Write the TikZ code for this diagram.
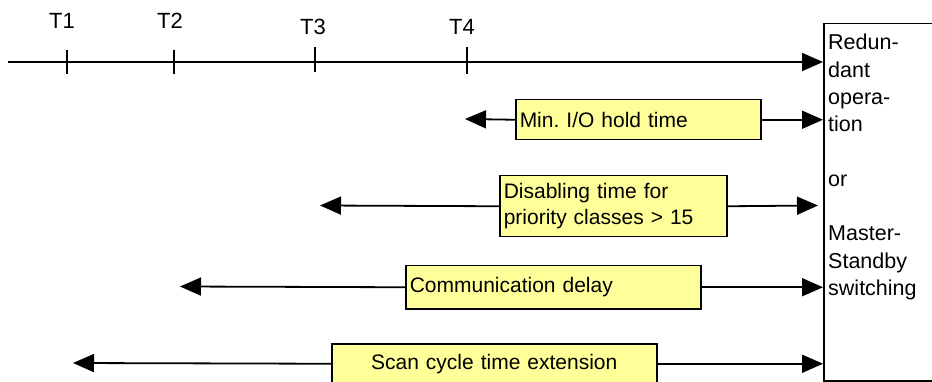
\documentclass[tikz,border=0pt]{standalone}
\usepackage{fontspec}
\setmainfont{Liberation Sans}
\usetikzlibrary{arrows.meta}
\definecolor{boxyellow}{HTML}{FFFF99}
\tikzset{
  arr/.style={-{Triangle[length=21pt,width=18pt]}, line width=1.8pt},
  ybox/.style={draw, line width=1.5pt, fill=boxyellow, font=\fontsize{21}{26}\selectfont, inner xsep=4pt, inner ysep=0pt, anchor=north west},
  tlabel/.style={font=\fontsize{22}{24}\selectfont, inner sep=0pt},
  tick/.style={line width=1.8pt}
}
\frenchspacing
\begin{document}
\begin{tikzpicture}[x=1pt,y=-1pt]
\useasboundingbox (0,0) rectangle (932,382);
% right box
\node[draw, line width=1.5pt, minimum width=130pt, minimum height=357pt, anchor=north west, inner sep=0pt] (rb) at (823,23) {};
\node[anchor=north west, inner sep=0pt, align=left, font=\fontsize{21.5}{27.3}\selectfont] (rbt) at (828,34)
  {Redun-\\dant\\opera-\\tion\\\mbox{}\\or\\\mbox{}\\Master-\\Standby\\switching};
% timeline
\coordinate (t0) at (8,62);
\coordinate (k1) at (67,62);
\coordinate (k2) at (174,62);
\coordinate (k3) at (315,62);
\coordinate (k4) at (467,62);
\draw[arr] (t0) -- (rb.west |- t0);
\draw[tick] ([yshift=-12pt]k1) -- ([yshift=12pt]k1);
\draw[tick] ([yshift=-12pt]k2) -- ([yshift=12pt]k2);
\draw[tick] ([yshift=-10pt]k3) -- ([yshift=15pt]k3);
\draw[tick] ([yshift=-12pt]k4) -- ([yshift=15pt]k4);
\node[tlabel] (l1) at (62,21) {T1};
\node[tlabel] (l2) at (170,21) {T2};
\node[tlabel] (l3) at (313,27) {T3};
\node[tlabel] (l4) at (462,27) {T4};
% row 1
\node[ybox, text width=237pt, align=left, minimum height=40pt] (m1) at (515,99) {Min. I/O hold time};
\coordinate (m1l) at (465,119);
\draw[arr] (m1.west) -- (m1l);
\draw[arr] (m1.east) -- (rb.west |- m1.east);
% row 2
\node[ybox, text width=219pt, align=left, minimum height=61pt] (d1) at (499,175) {Disabling time for\\priority classes > 15};
\coordinate (d1l) at (320,205.5);
\coordinate (d1r) at (818,205.5);
\draw[arr] (d1.west) -- (d1l);
\draw[arr] (d1.east) -- (d1r);
% row 3
\node[ybox, text width=287pt, align=left, minimum height=43pt] (c1) at (405,265) {Communication delay};
\coordinate (c1l) at (180,286.5);
\draw[arr] (c1.west) -- (c1l);
\draw[arr] (c1.east) -- (rb.west |- c1.east);
% row 4
\node[ybox, text width=317pt, align=center, minimum height=40pt] (s1) at (331,343) {Scan cycle time extension};
\coordinate (s1l) at (73,363);
\draw[arr] (s1.west) -- (s1l);
\draw[arr] (s1.east) -- (rb.west |- s1.east);
\end{tikzpicture}
\end{document}
